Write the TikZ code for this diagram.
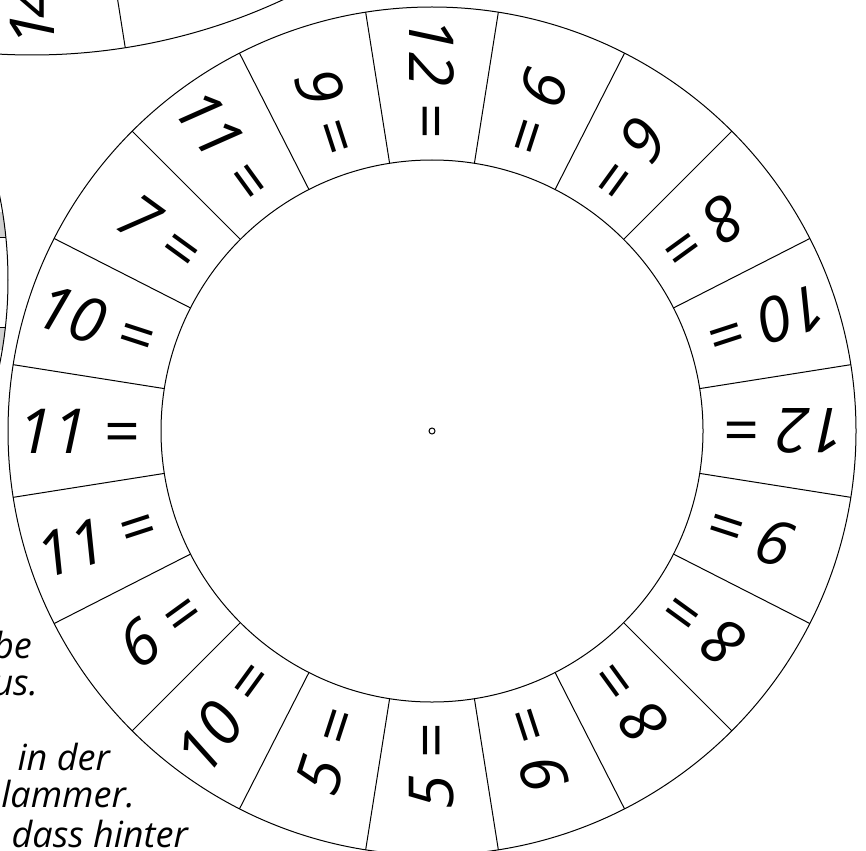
\documentclass[tikz,border=0pt]{standalone}
\usepackage{fontspec}
\setmainfont{Open Sans}
\usetikzlibrary{positioning}

\begin{document}
\begin{tikzpicture}[
    x=1pt, y=1pt,
    rim/.style={line width=1pt},
    sum/.style={font=\fontsize{62}{62}\selectfont\itshape, inner sep=0pt, anchor=east},
    note/.style={font=\fontsize{36}{38}\selectfont\itshape, inner sep=0pt, anchor=base east}
]
\useasboundingbox (0,0) rectangle (866,-850);
\clip (0,0) rectangle (866,-850);

% Main wheel
\begin{scope}[shift={(432,-431)}]
    \coordinate (hub) at (0,0);
    \draw[rim] (hub) circle[radius=424];
    \draw[rim] (hub) circle[radius=271];
    \draw[rim] (hub) circle[radius=3];

    % Dividers
    \foreach \a in {9,27,...,351} {
        \draw[rim] (\a:271) -- (\a:424);
    }

    % Entries, read from the rim inwards
    \foreach \n [count=\i from 0] in {12,10,8,6,9,12,9,11,7,10,11,11,6,10,5,5,9,8,8,9} {
        \pgfmathsetmacro{\ang}{\i*18}
        \node[sum, rotate=\ang+180] (e\i) at (\ang:293) {\n\ =};
    }
\end{scope}

% Wheel top left (cut)
\begin{scope}[shift={(32,541)}]
    \draw[rim] (0,0) circle[radius=596];
    \draw[rim] (279:480) -- (279:596);
    \node[sum, anchor=west, rotate=90] (t0) at (270:588) {1\kern-6pt 4};
\end{scope}

% Wheel left (cut)
\begin{scope}[shift={(-416,-280)}]
    \begin{scope}
        \clip (0,0) circle[radius=424];
        \fill[black!18] (400,68) rectangle (430,43);
        \fill[black!18] (400,-47) rectangle (430,-70);
        \draw[rim] (400,43) -- (430,43);
        \draw[rim] (400,-47) -- (430,-47);
    \end{scope}
    \draw[rim] (0,0) circle[radius=424];
\end{scope}

% Instructions (cut)
\node[note] (n1) at (32,-658) {be};
\node[note] (n2) at (38,-695) {us.};
\node[note] (n3) at (110,-770) {in der};
\node[note] (n4) at (135,-807) {lammer.};
\node[note] (n5) at (188,-847) {dass hinter};

\end{tikzpicture}
\end{document}
